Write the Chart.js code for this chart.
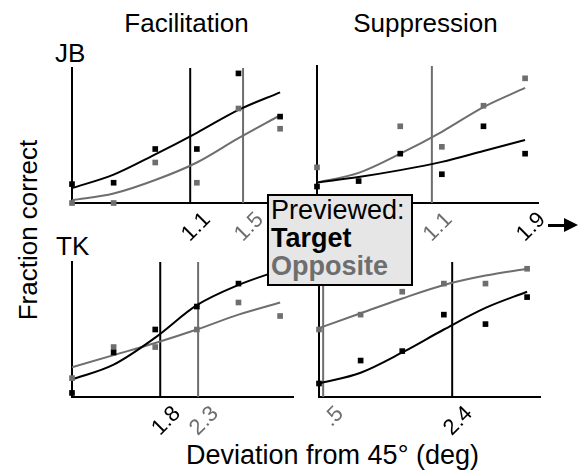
<!DOCTYPE html>
<html>
<head>
<meta charset="utf-8">
<script src="https://cdn.jsdelivr.net/npm/chart.js@4.4.0/dist/chart.umd.min.js"></script>
<style>
    body {
        margin: 0;
        width: 582px;
        height: 473px;
        position: relative;
        overflow: hidden;
        background: #fff;
        font-family: "Liberation Sans", Arial, sans-serif;
    }
    canvas { position: absolute; }
    .lbl { position: absolute; line-height: 1; white-space: nowrap; color: #000; font-size: 26px; }
    .center { transform: translateX(-50%); }
    #ylab { left: 28px; top: 229.5px; transform: translate(-50%, -50%) rotate(-90deg); }
    #xlab { font-size: 27px; }
    #box {
        position: absolute;
        left: 267px; top: 194px;
        width: 140px;
        padding: 0 0 4px 2px;
        border: 2px solid #000;
        background: #e6e6e6;
        font-size: 27px;
        line-height: 28px;
        z-index: 5;
    }
    #box .t { font-weight: bold; color: #000; }
    #box .o { font-weight: bold; color: #6e6e6e; }
    #arrow { position: absolute; left: 548px; top: 223.5px; width: 18px; height: 3px; background: #000; }
    #arrowHead {
        position: absolute; left: 564px; top: 218px; width: 0; height: 0;
        border-top: 7px solid transparent; border-bottom: 7px solid transparent;
        border-left: 14px solid #000;
    }
</style>
</head>
<body>

<div class="lbl center" style="left:186.5px; top:10px;">Facilitation</div>
<div class="lbl center" style="left:425.5px; top:10px;">Suppression</div>
<div class="lbl" style="left:55px; top:40px;">JB</div>
<div class="lbl" style="left:56px; top:233px;">TK</div>
<div class="lbl" id="ylab">Fraction correct</div>
<div class="lbl center" id="xlab" style="left:332.5px; top:442px;">Deviation from 45° (deg)</div>

<div id="box">Previewed:<br><span class="t">Target</span><br><span class="o">Opposite</span></div>
<div id="arrow"></div><div id="arrowHead"></div>

<canvas id="jbFac"></canvas>
<canvas id="jbSup"></canvas>
<canvas id="tkFac"></canvas>
<canvas id="tkSup"></canvas>

<script>
const BLACK = '#000000';
const GRAY = '#6e6e6e';

// stimulus levels (deviation steps), same for every panel
const steps = [0, 1, 2, 3, 4, 5];
const stepMax = 5.31;

// JB, facilitation
const jbFacTarget      = [0.14, 0.15, 0.40, 0.40, 0.96, 0.64];
const jbFacOpposite    = [0.00, 0.00, 0.30, 0.15, 0.70, 0.55];
const jbFacTargetFit   = [0.11, 0.21, 0.36, 0.52, 0.69, 0.82];
const jbFacOppositeFit = [0.02, 0.07, 0.17, 0.30, 0.48, 0.65];
const jbFacTicks       = [2.84, 4.11];
const jbFacTickLabels  = ['1.1', '1.5'];
const jbFacTickColors  = [BLACK, GRAY];
const jbFacLines       = [2.84, 4.11];
const jbFacLineColors  = [BLACK, GRAY];

// JB, suppression
const jbSupTarget      = [0.12, 0.16, 0.36, 0.21, 0.56, 0.36];
const jbSupOpposite    = [0.26, 0.01, 0.56, 0.41, 0.71, 0.91];
const jbSupTargetFit   = [0.15, 0.19, 0.24, 0.30, 0.38, 0.46];
const jbSupOppositeFit = [0.15, 0.22, 0.36, 0.52, 0.70, 0.84];
const jbSupTicks       = [2.76, 5.0];
const jbSupTickLabels  = ['1.1', '1.9'];
const jbSupTickColors  = [GRAY, BLACK];
const jbSupLines       = [2.76];
const jbSupLineColors  = [GRAY];

// TK, facilitation
const tkFacTarget      = [0.03, 0.33, 0.50, 0.67, 0.84, 0.95];
const tkFacOpposite    = [0.14, 0.37, 0.37, 0.50, 0.70, 0.60];
const tkFacTargetFit   = [0.13, 0.24, 0.44, 0.68, 0.83, 0.94];
const tkFacOppositeFit = [0.22, 0.31, 0.40, 0.50, 0.61, 0.70];
const tkFacTicks       = [2.12, 3.03];
const tkFacTickLabels  = ['1.8', '2.3'];
const tkFacTickColors  = [BLACK, GRAY];
const tkFacLines       = [2.12, 3.03];
const tkFacLineColors  = [BLACK, GRAY];

// TK, suppression
const tkSupTarget      = [0.10, 0.27, 0.34, 0.61, 0.54, 0.74];
const tkSupOpposite    = [0.50, 0.61, 0.78, 0.84, 0.84, 0.95];
const tkSupTargetFit   = [0.10, 0.18, 0.33, 0.50, 0.66, 0.78];
const tkSupOppositeFit = [0.51, 0.62, 0.73, 0.83, 0.90, 0.95];
const tkSupTicks       = [0.1, 3.2];
const tkSupTickLabels  = ['.5', '2.4'];
const tkSupTickColors  = [GRAY, BLACK];
const tkSupLines       = [0.1, 3.2];
const tkSupLineColors  = [GRAY, BLACK];

const pad = { left: 14, right: 14, top: 8, bottom: 2 };
const xAxisHeight = 50;

function toPoints(ys) {
    return steps.map((x, i) => ({ x: x, y: ys[i] }));
}

function makePanel(id, area, p) {
    const canvas = document.getElementById(id);
    canvas.width = area.right - area.left + pad.left + pad.right;
    canvas.height = area.bottom - area.top + pad.top + pad.bottom + xAxisHeight;
    canvas.style.left = (area.left - pad.left) + 'px';
    canvas.style.top = (area.top - pad.top) + 'px';

    let datasets = [
        { type: 'scatter', data: toPoints(p.target), pointStyle: 'rect', pointRadius: 4, backgroundColor: BLACK, borderWidth: 0, clip: false },
        { type: 'scatter', data: toPoints(p.opposite), pointStyle: 'rect', pointRadius: 4, backgroundColor: GRAY, borderWidth: 0, clip: false },
        { data: toPoints(p.targetFit), borderColor: BLACK, borderWidth: 2, pointRadius: 0, cubicInterpolationMode: 'monotone', clip: false },
        { data: toPoints(p.oppositeFit), borderColor: GRAY, borderWidth: 2, pointRadius: 0, cubicInterpolationMode: 'monotone', clip: false }
    ];
    for (var i = 0; i < p.lines.length; i++) {
        datasets.push({
            data: [{ x: p.lines[i], y: 0 }, { x: p.lines[i], y: 1 }],
            borderColor: p.lineColors[i], borderWidth: 2, pointRadius: 0, clip: false
        });
    }

    return new Chart(canvas.getContext('2d'), {
        type: 'line',
        data: { datasets: datasets },
        options: {
            responsive: false,
            animation: false,
            events: [],
            layout: { padding: pad },
            plugins: { legend: { display: false }, tooltip: { enabled: false } },
            scales: {
                x: {
                    type: 'linear',
                    min: 0,
                    max: stepMax,
                    grid: { display: false, drawTicks: false },
                    border: { display: true, color: BLACK, width: 2 },
                    afterBuildTicks: (scale) => { scale.ticks = p.ticks.map(v => ({ value: v })); },
                    afterFit: (scale) => {
                        scale.height = xAxisHeight;
                        scale.paddingLeft = 0; scale.paddingRight = 0;
                        scale.paddingTop = 0; scale.paddingBottom = 0;
                    },
                    ticks: {
                        autoSkip: false,
                        minRotation: 45,
                        maxRotation: 45,
                        padding: 4,
                        labelOffset: 17,
                        font: { family: 'Liberation Sans', size: 22 },
                        color: (c) => p.tickColors[c.index],
                        callback: (value, index) => p.tickLabels[index]
                    }
                },
                y: {
                    type: 'linear',
                    min: 0,
                    max: 1,
                    grid: { display: false, drawTicks: false },
                    border: { display: true, color: BLACK, width: 2 },
                    ticks: { display: false },
                    afterFit: (scale) => {
                        scale.width = 0;
                        scale.paddingTop = 0; scale.paddingBottom = 0;
                    }
                }
            }
        }
    });
}

makePanel('jbFac', { left: 72, top: 68, right: 293, bottom: 203 }, {
    target: jbFacTarget, opposite: jbFacOpposite, targetFit: jbFacTargetFit, oppositeFit: jbFacOppositeFit,
    ticks: jbFacTicks, tickLabels: jbFacTickLabels, tickColors: jbFacTickColors,
    lines: jbFacLines, lineColors: jbFacLineColors
});
makePanel('jbSup', { left: 317, top: 66, right: 538, bottom: 203 }, {
    target: jbSupTarget, opposite: jbSupOpposite, targetFit: jbSupTargetFit, oppositeFit: jbSupOppositeFit,
    ticks: jbSupTicks, tickLabels: jbSupTickLabels, tickColors: jbSupTickColors,
    lines: jbSupLines, lineColors: jbSupLineColors
});
makePanel('tkFac', { left: 72, top: 262, right: 293, bottom: 397 }, {
    target: tkFacTarget, opposite: tkFacOpposite, targetFit: tkFacTargetFit, oppositeFit: tkFacOppositeFit,
    ticks: tkFacTicks, tickLabels: tkFacTickLabels, tickColors: tkFacTickColors,
    lines: tkFacLines, lineColors: tkFacLineColors
});
makePanel('tkSup', { left: 319, top: 262, right: 540, bottom: 397 }, {
    target: tkSupTarget, opposite: tkSupOpposite, targetFit: tkSupTargetFit, oppositeFit: tkSupOppositeFit,
    ticks: tkSupTicks, tickLabels: tkSupTickLabels, tickColors: tkSupTickColors,
    lines: tkSupLines, lineColors: tkSupLineColors
});
</script>
</body>
</html>
